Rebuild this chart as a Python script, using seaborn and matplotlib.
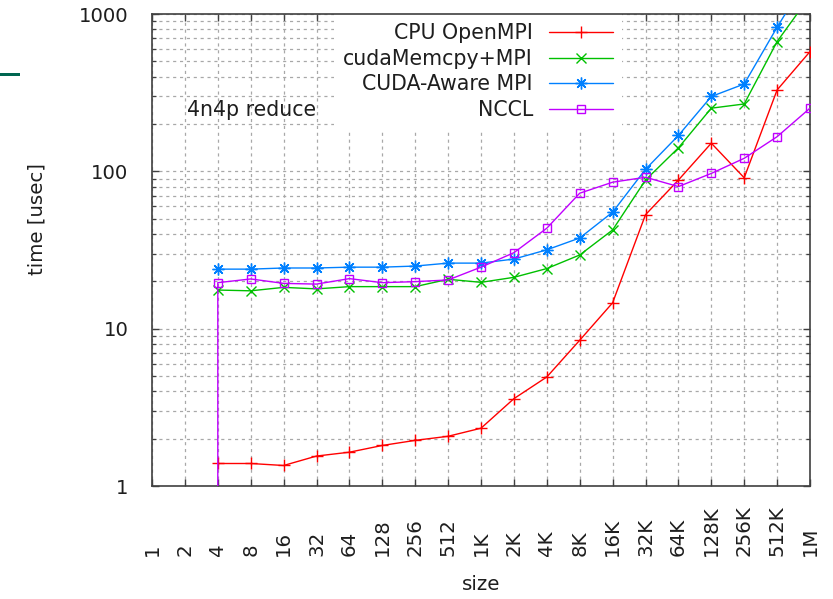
import matplotlib
matplotlib.use("Agg")
import matplotlib.pyplot as plt
from matplotlib.patches import Rectangle
from matplotlib.ticker import FixedLocator, NullFormatter, LogLocator
import matplotlib.transforms as mtransforms
import seaborn as sns
import pandas as pd

# ---- data ----
tick_labels = ["1", "2", "4", "8", "16", "32", "64", "128", "256", "512", "1K",
               "2K", "4K", "8K", "16K", "32K", "64K", "128K", "256K", "512K", "1M"]
tick_sizes = [1, 2, 4, 8, 16, 32, 64, 128, 256, 512, 1024, 2048, 4096, 8192,
              16384, 32768, 65536, 131072, 262144, 524288, 1048576]
sizes = [4, 8, 16, 32, 64, 128, 256, 512, 1024, 2048, 4096, 8192,
         16384, 32768, 65536, 131072, 262144, 524288, 1048576]
cpu_openmpi = [1.39, 1.39, 1.35, 1.55, 1.64, 1.81, 1.95, 2.07, 2.33, 3.59, 4.93,
               8.44, 14.6, 53, 88, 151, 91, 329, 577]
cuda_memcpy = [17.6, 17.4, 18.3, 17.9, 18.5, 18.5, 18.5, 20.6, 19.7, 21.2, 24.1,
               29.4, 42.4, 88, 141, 252, 268, 668, 1300]
cuda_aware = [23.9, 23.9, 24.3, 24.3, 24.6, 24.6, 25.0, 26.1, 26.1, 27.7, 31.7,
              37.7, 55, 103, 169, 299, 359, 824, 1800]
nccl_sizes = [4, 4, 8, 16, 32, 64, 128, 256, 512, 1024, 2048, 4096, 8192,
              16384, 32768, 65536, 131072, 262144, 524288, 1048576]
nccl = [0.1, 19.6, 20.7, 19.4, 19.2, 20.8, 19.6, 19.9, 20.4, 24.6, 30.4, 43.5,
        72.6, 85.3, 91.7, 80, 97, 121, 166, 252]
series_names = ["CPU OpenMPI", "cudaMemcpy+MPI", "CUDA-Aware MPI", "NCCL"]

sns.set_style("ticks")
plt.rcParams["font.family"] = ["DejaVu Sans"]
FS = 14.2
FS2 = 14.8
TXT = "#1e1e1e"

fig = plt.figure(figsize=(8.33, 5.99), dpi=100)
W, H = 833, 599
L, R, T, B = 152, 810, 14, 486
ax = fig.add_axes([L / W, (H - B) / H, (R - L) / W, (B - T) / H])

styles = [
    dict(color="#ff0000", marker="+", ms=9, mew=1.0),
    dict(color="#00c000", marker="x", ms=7, mew=1.0),
    dict(color="#0080ff", marker=(8, 2, 0), ms=8.5, mew=1.0),
    dict(color="#c000ff", marker="s", ms=5.5, mew=1.0, mfc="none"),
]
datasets = [(sizes, cpu_openmpi), (sizes, cuda_memcpy), (sizes, cuda_aware), (nccl_sizes, nccl)]

for name, (xs, ys), st in zip(series_names, datasets, styles):
    df = pd.DataFrame({"size": xs, "time": ys})
    kw = {k: v for k, v in st.items() if k != "color"}
    sns.lineplot(data=df, x="size", y="time", ax=ax, estimator=None, sort=False,
                 label=name, lw=1.0, zorder=3, color=st["color"], mec=st["color"], **kw)

ax.set_xscale("log", base=2)
ax.set_yscale("log")
ax.set_xlim(1, 1048576)
ax.set_ylim(1, 1000)

ax.xaxis.set_major_locator(FixedLocator(tick_sizes))
ax.xaxis.set_minor_locator(FixedLocator([]))
ax.xaxis.set_major_formatter(NullFormatter())
ax.yaxis.set_major_locator(FixedLocator([1, 10, 100, 1000]))
ax.yaxis.set_minor_locator(LogLocator(base=10, subs=range(2, 10)))
ax.yaxis.set_minor_formatter(NullFormatter())
ax.set_yticklabels(["1", "10", "100", "1000"])

ax.tick_params(axis="both", which="major", direction="in", length=5, width=1.0,
               top=True, right=True, color="#404040")
ax.tick_params(axis="both", which="minor", direction="in", length=3, width=0.9,
               top=True, right=True, color="#404040")
ax.tick_params(axis="y", which="major", labelsize=FS, pad=17, labelcolor=TXT)

grid_kw = dict(color="#a8a8a8", linestyle=(0, (2.5, 3)), linewidth=0.9, zorder=1)
ax.grid(True, which="major", axis="both", **grid_kw)
ax.grid(True, which="minor", axis="y", **grid_kw)
ax.set_axisbelow(True)

for s in ax.spines.values():
    s.set_color("#404040")
    s.set_linewidth(1.2)
    s.set_visible(True)

# x tick labels (rotated, anchored at bottom)
trans = mtransforms.blended_transform_factory(ax.transData, ax.transAxes)
for xv, lab in zip(tick_sizes, tick_labels):
    ax.text(xv, (B - 556) / (B - T), lab, transform=trans, rotation=90,
            ha="center", va="bottom", fontsize=FS, color=TXT)

ax.set_xlabel("size", fontsize=FS, color=TXT)
ax.xaxis.set_label_coords(0.5, (B - 584) / (B - T))
ax.xaxis.label.set_va("center")
ax.set_ylabel("time [usec]", fontsize=FS, color=TXT)
ax.yaxis.set_label_coords((37 - L) / (R - L), (B - 219) / (B - T))
ax.yaxis.label.set_va("center")

ax.text((187 - L) / (R - L), (B - 110) / (B - T), "4n4p reduce", transform=ax.transAxes,
        ha="left", va="center", fontsize=FS2, color=TXT)

leg = ax.legend(loc="upper right", bbox_to_anchor=((622 - L) / (R - L), 1.0),
                borderaxespad=0, borderpad=0.45, markerfirst=False, frameon=True,
                fontsize=FS2, handlelength=3.1, handletextpad=0.78, labelspacing=0.27,
                fancybox=False, framealpha=1.0)
leg.get_frame().set_edgecolor("white")
leg.get_frame().set_facecolor("white")
leg.get_frame().set_linewidth(0)
for t in leg.get_texts():
    t.set_ha("right")
    t.set_color(TXT)
leg.set_zorder(1.8)

# green slide artifact at top-left
fig.patches.append(Rectangle((0, (H - 76) / H), 20 / W, 3.5 / H, transform=fig.transFigure,
                             facecolor="#006650", edgecolor="none"))

fig.savefig("out.png", dpi=100)
